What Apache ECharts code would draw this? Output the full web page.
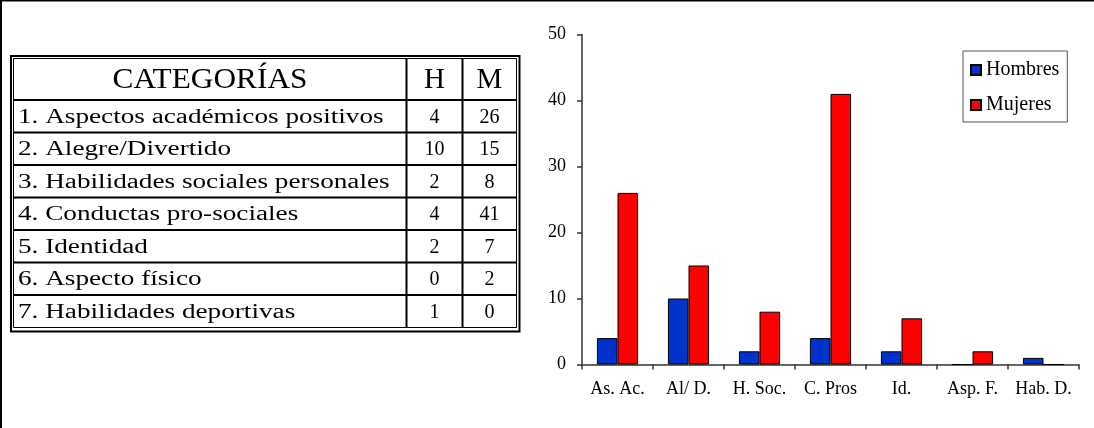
<!DOCTYPE html>
<html>
<head>
<meta charset="utf-8">
<script src="https://cdn.jsdelivr.net/npm/echarts@6/dist/echarts.min.js"></script>
<style>
  html, body { margin: 0; padding: 0; background: #fff; }
  #chart { width: 1094px; height: 428px; }
</style>
</head>
<body>
<div id="chart"></div>
<script>
// Categories (full names for the table, short names for the axis)
const categoryNames = [
  '1. Aspectos académicos positivos',
  '2. Alegre/Divertido',
  '3. Habilidades sociales personales',
  '4. Conductas pro-sociales',
  '5. Identidad',
  '6. Aspecto físico',
  '7. Habilidades deportivas'
];
const categoryShort = ['As. Ac.', 'Al/ D.', 'H. Soc.', 'C. Pros', 'Id.', 'Asp. F.', 'Hab. D.'];
const hombres = [4, 10, 2, 4, 2, 0, 1];
const mujeres = [26, 15, 8, 41, 7, 2, 0];
const tableHeader = ['CATEGORÍAS', 'H', 'M'];
const yTicks = { min: 0, max: 50, interval: 10 };

const SERIF = '"Liberation Serif", "Times New Roman", serif';

// ---- table layout ----
const tblL = 13.5, tblR = 516.5, tblT = 58.5, tblB = 327.5;
const headB = 100, rowH = 32.5;
const col1 = 406.5, col2 = 462.5;

function line(x1, y1, x2, y2, w) {
  return { type: 'line', silent: true, shape: { x1, y1, x2, y2 },
           style: { stroke: '#000', lineWidth: w } };
}
function label(text, x, y, size, align, sx) {
  return { type: 'text', silent: true, x, y, scaleX: sx || 1,
           style: { text, x: 0, y: 0, font: size + 'px ' + SERIF, fill: '#000',
                    textAlign: align, textVerticalAlign: 'middle' } };
}

const graphics = [];
// page frame (left and top edges)
graphics.push({ type: 'rect', silent: true, shape: { x: 0, y: 0, width: 2, height: 428 }, style: { fill: '#000' } });
graphics.push({ type: 'rect', silent: true, shape: { x: 0, y: 0, width: 1094, height: 1.5 }, style: { fill: '#000' } });
// double border
graphics.push({ type: 'rect', silent: true, shape: { x: 11, y: 56, width: 508.5, height: 275.5 },
                style: { fill: 'none', stroke: '#000', lineWidth: 2 } });
graphics.push({ type: 'rect', silent: true, shape: { x: tblL, y: tblT, width: tblR - tblL, height: tblB - tblT },
                style: { fill: 'none', stroke: '#000', lineWidth: 1 } });
// header separator and row separators
graphics.push(line(tblL, headB, tblR, headB, 2));
for (let i = 1; i < categoryNames.length; i++) {
  const y = headB + i * rowH;
  graphics.push(line(tblL, y, tblR, y, 2));
}
// column separators
graphics.push(line(col1, tblT, col1, tblB, 2));
graphics.push(line(col2, tblT, col2, tblB, 2));
// header text
graphics.push(label(tableHeader[0], (tblL + col1) / 2, (tblT + headB) / 2 + 1, 29, 'center', 1.08));
graphics.push(label(tableHeader[1], (col1 + col2) / 2, (tblT + headB) / 2 + 1, 29, 'center'));
graphics.push(label(tableHeader[2], (col2 + tblR) / 2, (tblT + headB) / 2 + 1, 29, 'center'));
// body rows
categoryNames.forEach((name, i) => {
  const yc = headB + i * rowH + rowH / 2 + 1;
  graphics.push(label(name, 18, yc, 20, 'left', 1.36));
  graphics.push(label(String(hombres[i]), (col1 + col2) / 2, yc, 20, 'center'));
  graphics.push(label(String(mujeres[i]), (col2 + tblR) / 2, yc, 20, 'center'));
});

const chart = echarts.init(document.getElementById('chart'), null, { renderer: 'canvas' });
chart.setOption({
  animation: false,
  backgroundColor: '#fff',
  textStyle: { fontFamily: SERIF, color: '#000' },
  grid: { left: 582, right: 15, top: 34.5, bottom: 63.5, containLabel: false },
  legend: {
    orient: 'vertical',
    left: 963, top: 51,
    padding: [9, 8, 7, 7],
    itemWidth: 10, itemHeight: 10, itemGap: 15,
    borderColor: '#555', borderWidth: 1, backgroundColor: '#fff',
    textStyle: { fontFamily: SERIF, fontSize: 20, color: '#000' },
    icon: 'rect',
    data: ['Hombres', 'Mujeres']
  },
  xAxis: {
    type: 'category',
    data: categoryShort,
    axisLine: { lineStyle: { color: '#333', width: 1.5 } },
    axisTick: { show: true, length: 5, lineStyle: { color: '#333', width: 1.5 } },
    axisLabel: { fontFamily: SERIF, fontSize: 18, color: '#000', margin: 16, interval: 0 }
  },
  yAxis: {
    type: 'value',
    min: yTicks.min, max: yTicks.max, interval: yTicks.interval,
    splitLine: { show: false },
    axisLine: { show: true, lineStyle: { color: '#333', width: 1.5 } },
    axisTick: { show: true, length: 5, lineStyle: { color: '#333', width: 1.5 } },
    axisLabel: { fontFamily: SERIF, fontSize: 18, color: '#000', margin: 16 }
  },
  series: [
    { name: 'Hombres', type: 'bar', data: hombres, barGap: '0%', barCategoryGap: '42%',
      itemStyle: { color: '#0033CC', borderColor: '#000', borderWidth: 1 } },
    { name: 'Mujeres', type: 'bar', data: mujeres, barGap: '0%', barCategoryGap: '42%',
      itemStyle: { color: '#FF0000', borderColor: '#000', borderWidth: 1 } }
  ],
  graphic: graphics
});
</script>
</body>
</html>
